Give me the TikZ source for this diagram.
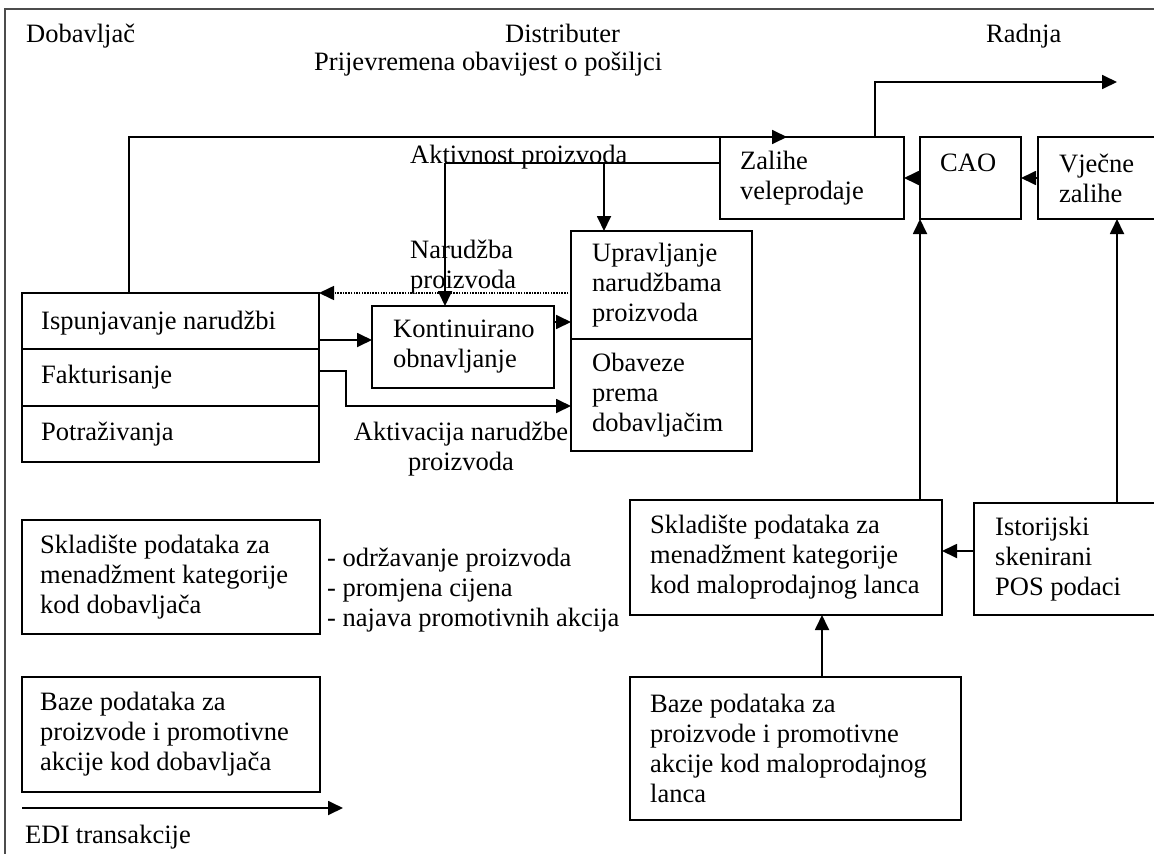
\documentclass[tikz,border=0pt]{standalone}
\usepackage{fontspec}
\setmainfont{Liberation Serif}
\usetikzlibrary{arrows.meta,calc}
\tikzset{
  bx/.style={draw, line width=1.3pt, anchor=north west, inner sep=0pt, outer sep=0pt},
  tx/.style={anchor=west, align=left, inner sep=0pt},
  lbl/.style={inner sep=0pt},
  ln/.style={line width=1.3pt},
  arr/.style={line width=1.8pt, -{Triangle[length=15pt,width=14pt]}},
  dotl/.style={line width=1.6pt, dash pattern=on 1.5pt off 1.2pt, -{Triangle[length=15pt,width=14pt]}},
}
\begin{document}
\begin{tikzpicture}[x=1pt, y=-1pt, font=\fontsize{26.5pt}{30pt}\selectfont]
\clip (0,0) rectangle (1154,854);
\useasboundingbox (0,0) rectangle (1154,854);
% frame
\draw[line width=1.5pt, gray!60!black] (5,854) -- (5,9) -- (1160,9);

% boxes
\node[bx, minimum width=184pt, minimum height=82pt] (zal) at (720,137) {};
\node[bx, minimum width=101pt, minimum height=82pt] (cao) at (920,137) {};
\node[bx, minimum width=130pt, minimum height=82pt] (vje) at (1038,137) {};
\node[bx, minimum width=181pt, minimum height=108pt] (upr) at (571,231) {};
\node[bx, minimum width=181pt, minimum height=112pt] (obv) at (571,339) {};
\node[bx, minimum width=182pt, minimum height=82pt] (kont) at (372,306) {};
\node[bx, minimum width=297pt, minimum height=56pt] (isp) at (22,293) {};
\node[bx, minimum width=297pt, minimum height=57pt] (fak) at (22,349) {};
\node[bx, minimum width=297pt, minimum height=56pt] (pot) at (22,406) {};
\node[bx, minimum width=298pt, minimum height=114pt] (sks) at (22,520) {};
\node[bx, minimum width=298pt, minimum height=115pt] (bzs) at (22,677) {};
\node[bx, minimum width=312pt, minimum height=115pt] (skr) at (630,500) {};
\node[bx, minimum width=200pt, minimum height=112pt] (ist) at (974,503) {};
\node[bx, minimum width=331pt, minimum height=143pt] (bzr) at (630,677) {};

% box texts
\node[tx] (zalT) at ($(zal.west)+(20,0)$) {Zalihe\\veleprodaje};
\node[tx] (caoT) at ($(cao.north west)+(20,26)$) {CAO};
\node[tx] (vjeT) at ($(vje.west)+(21,0)$) {Vječne\\zalihe};
\node[tx] (uprT) at ($(upr.west)+(21,0)$) {Upravljanje\\narudžbama\\proizvoda};
\node[tx] (obvT) at ($(obv.west)+(21,0)$) {Obaveze\\prema\\dobavljačim};
\node[tx] (kontT) at ($(kont.west)+(21,0)$) {Kontinuirano\\obnavljanje};
\node[tx] (ispT) at ($(isp.west)+(19,2)$) {Ispunjavanje narudžbi};
\node[tx] (fakT) at ($(fak.west)+(19,0)$) {Fakturisanje};
\node[tx] (potT) at ($(pot.west)+(19,0)$) {Potraživanja};
\node[tx] (sksT) at ($(sks.west)+(18,0)$) {Skladište podataka za\\menadžment kategorije\\kod dobavljača};
\node[tx] (bzsT) at ($(bzs.west)+(18,0)$) {Baze podataka za\\proizvode i promotivne\\akcije kod dobavljača};
\node[tx] (skrT) at ($(skr.west)+(20,0)$) {Skladište podataka za\\menadžment kategorije\\kod maloprodajnog lanca};
\node[tx] (istT) at ($(ist.west)+(21,0)$) {Istorijski\\skenirani\\POS podaci};
\node[tx] (bzrT) at ($(bzr.west)+(20,0)$) {Baze podataka za\\proizvode i promotivne\\akcije kod maloprodajnog\\lanca};

% free labels
\node[lbl, anchor=base west] (dob) at (26,42) {Dobavljač};
\node[lbl, anchor=base west] (dis) at (505,42) {Distributer};
\node[lbl, anchor=base west] (pri) at (314,70) {Prijevremena obavijest o pošiljci};
\node[lbl, anchor=base west] (rad) at (986,42) {Radnja};
\node[lbl, anchor=base west] (akt) at (410,163) {Aktivnost proizvoda};
\node[lbl, anchor=north west, align=left] (nar) at (410,240) {Narudžba\\proizvoda};
\node[lbl, anchor=north, align=center] (aktv) at (461,422) {Aktivacija narudžbe\\proizvoda};
\node[lbl, anchor=north west, align=left] (lst) at (327,548) {- održavanje proizvoda\\- promjena cijena\\- najava promotivnih akcija};
\node[lbl, anchor=base west] (edi) at (25,843) {EDI transakcije};

% helper coordinates
\coordinate (radE) at (1117,82);
\coordinate (akL) at (445,163);
\coordinate (akM) at (604,163);
\coordinate (ediA) at (22,808);
\coordinate (ediB) at (343,808);

% connectors
\draw[arr] ($(isp.north west)+(107,0)$) |- ($(zal.north west)+(67,0)$);
\draw[arr] ($(zal.north west)+(155,0)$) |- (radE);
\draw[ln] ($(zal.north west)+(0,26)$) -- (akL);
\draw[arr] (akL) -- (kont.north -| akL);
\draw[arr] (akM) -- (upr.north -| akM);
\draw[dotl] (upr.west |- isp.north east) -- (isp.north east);
\draw[arr] (isp.east |- 0,340) -- (kont.west |- 0,340);
\draw[arr] (kont.east |- 0,322) -- (upr.west |- 0,322);
\draw[arr] (fak.east |- 0,371) -| (346,406) -- (obv.west |- 0,406);
\draw[arr] (cao.west) -- (zal.east);
\draw[arr] (vje.west) -- (cao.east);
\draw[arr] (skr.north -| cao.south west) -- (cao.south west);
\draw[arr] (ist.north -| 1117,0) -- (vje.south -| 1117,0);
\draw[arr] (ist.west |- 0,551) -- (skr.east |- 0,551);
\draw[arr] (bzr.north -| 822,0) -- (skr.south -| 822,0);
\draw[arr] (ediA) -- (ediB);
\end{tikzpicture}
\end{document}
